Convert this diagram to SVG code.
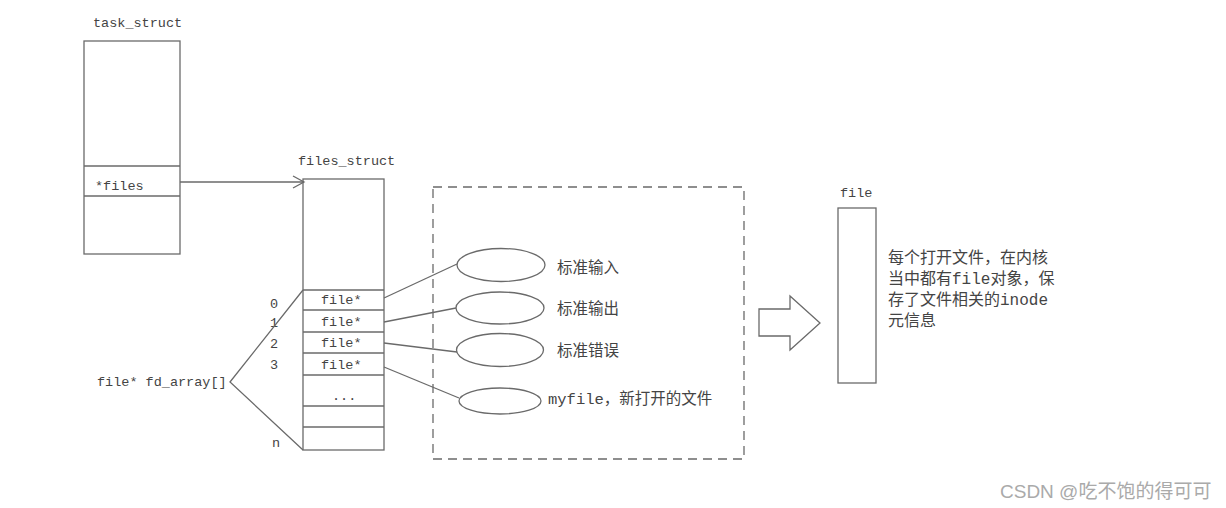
<svg xmlns="http://www.w3.org/2000/svg" width="1226" height="508" viewBox="0 0 1226 508">
<defs>
<style>
.b{fill:none;stroke:#6a6a6a;stroke-width:1.3}
.m{font-family:"Liberation Mono","DejaVu Sans Mono",monospace;font-size:13.5px;fill:#444}
.c{font-family:"Liberation Mono","Noto Sans CJK SC",monospace;font-size:15.5px;fill:#444}
.r{font-family:"Liberation Mono","Noto Sans CJK SC",monospace;font-size:16px;fill:#444}
.w{font-family:"Liberation Sans","Noto Sans CJK SC",sans-serif;font-size:19px;fill:#aaa}
</style>
<marker id="ah" markerWidth="14" markerHeight="14" refX="12" refY="7" orient="auto" markerUnits="userSpaceOnUse">
<path d="M1,1 L12,7 L1,13" fill="none" stroke="#6a6a6a" stroke-width="1.3"/>
</marker>
</defs>
<rect width="1226" height="508" fill="#fff"/>

<g id="task_struct">
<text class="m" x="93" y="27">task_struct</text>
<rect class="b" x="84" y="41" width="96" height="213"/>
<line class="b" x1="84" y1="166" x2="180" y2="166"/>
<line class="b" x1="84" y1="196" x2="180" y2="196"/>
<text class="m" x="95" y="190">*files</text>
</g>

<g id="files_struct">
<text class="m" x="298" y="165">files_struct</text>
<rect class="b" x="303" y="179" width="81" height="271"/>
<line class="b" x1="303" y1="290" x2="384" y2="290"/>
<line class="b" x1="303" y1="310" x2="384" y2="310"/>
<line class="b" x1="303" y1="332" x2="384" y2="332"/>
<line class="b" x1="303" y1="353" x2="384" y2="353"/>
<line class="b" x1="303" y1="375" x2="384" y2="375"/>
<line class="b" x1="303" y1="406" x2="384" y2="406"/>
<line class="b" x1="303" y1="427" x2="384" y2="427"/>
<text class="m" x="321" y="304">file*</text>
<text class="m" x="321" y="326">file*</text>
<text class="m" x="321" y="347">file*</text>
<text class="m" x="321" y="369">file*</text>
<text class="m" x="332" y="400">...</text>
<text class="m" x="270" y="308">0</text>
<text class="m" x="270" y="327">1</text>
<text class="m" x="270" y="348">2</text>
<text class="m" x="270" y="369">3</text>
<text class="m" x="272" y="447">n</text>
</g>

<g id="fd_array">
<text class="m" x="97" y="386">file* fd_array[]</text>
</g>

<g id="open_files">
<rect x="433" y="187" width="311" height="272" fill="none" stroke="#6a6a6a" stroke-width="1.3" stroke-dasharray="9,6"/>
<ellipse class="b" cx="501" cy="265" rx="44" ry="16.5"/>
<ellipse class="b" cx="500" cy="308" rx="44" ry="16"/>
<ellipse class="b" cx="500" cy="350" rx="43.5" ry="16.5"/>
<ellipse class="b" cx="500" cy="401" rx="41" ry="13"/>
<text class="c" x="557" y="273">标准输入</text>
<text class="c" x="557" y="314">标准输出</text>
<text class="c" x="557" y="356">标准错误</text>
<text class="c" x="548" y="404">myfile，新打开的文件</text>
</g>

<g id="big_arrow">
<path class="b" d="M759,309 L790,309 L790,296 L820,323 L790,350 L790,336 L759,336 Z"/>
</g>

<g id="file">
<text class="m" x="840" y="197">file</text>
<rect class="b" x="838" y="208" width="38" height="175"/>
<text class="r" x="888" y="263">每个打开文件，在内核</text>
<text class="r" x="888" y="284">当中都有file对象，保</text>
<text class="r" x="888" y="305">存了文件相关的inode</text>
<text class="r" x="888" y="326">元信息</text>
</g>

<g id="connectors">
<line class="b" x1="180" y1="182" x2="304" y2="182" marker-end="url(#ah)"/>
<polyline class="b" points="303,290 230,382 303,450"/>
<line class="b" x1="384" y1="298" x2="457" y2="264"/>
<line class="b" x1="384" y1="322" x2="456" y2="308"/>
<line class="b" x1="384" y1="343" x2="457" y2="352"/>
<line class="b" x1="384" y1="367" x2="459" y2="398"/>
</g>

<text class="w" x="1000" y="498">CSDN @吃不饱的得可可</text>
</svg>
